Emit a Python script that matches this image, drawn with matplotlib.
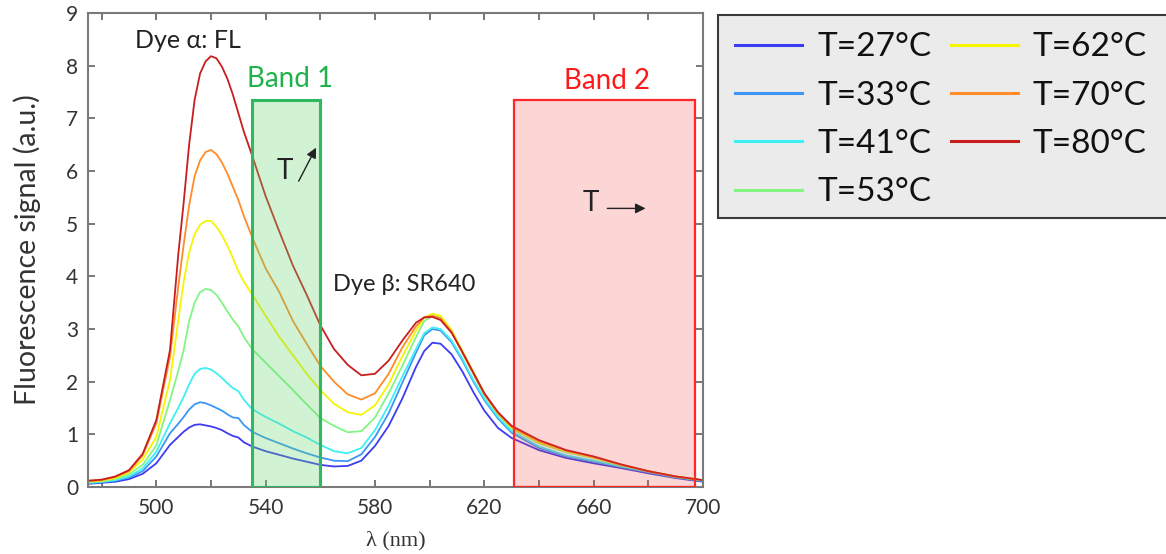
import matplotlib
matplotlib.use("Agg")
import matplotlib.pyplot as plt
from matplotlib.patches import Rectangle
from matplotlib.ticker import MultipleLocator

plt.rcParams['font.family'] = ['Lato', 'DejaVu Sans']

# wavelength grid (nm)
wl = [475, 480, 485, 490, 495, 500, 505, 508, 510, 512, 514, 516, 518, 520, 522, 524, 526, 528, 530,
      532, 535, 540, 545, 550, 555, 560, 565, 570, 575, 580, 585, 590, 595, 598,
      601, 604, 608, 612, 616, 620, 625, 630, 640, 650, 660, 670, 680, 690, 700]

# fluorescence spectra (a.u.)
s27 = [0.06, 0.08, 0.10, 0.15, 0.25, 0.45, 0.80, 0.95, 1.05, 1.13, 1.18, 1.19, 1.17, 1.15, 1.12, 1.08, 1.02, 0.97, 0.94,
       0.85, 0.77, 0.68, 0.61, 0.54, 0.48, 0.42, 0.39, 0.40, 0.50, 0.78, 1.16, 1.68, 2.28, 2.58,
       2.74, 2.72, 2.52, 2.19, 1.80, 1.45, 1.12, 0.93, 0.70, 0.55, 0.45, 0.36, 0.26, 0.17, 0.10]
s33 = [0.07, 0.09, 0.12, 0.18, 0.30, 0.58, 1.02, 1.20, 1.33, 1.47, 1.57, 1.61, 1.59, 1.55, 1.50, 1.45, 1.38, 1.32, 1.31,
       1.18, 1.05, 0.93, 0.83, 0.73, 0.64, 0.56, 0.50, 0.49, 0.62, 0.95, 1.40, 1.98, 2.55, 2.88,
       3.00, 2.97, 2.75, 2.40, 2.00, 1.65, 1.30, 1.03, 0.74, 0.58, 0.48, 0.38, 0.28, 0.18, 0.11]
s41 = [0.08, 0.10, 0.13, 0.20, 0.35, 0.67, 1.21, 1.50, 1.71, 1.95, 2.15, 2.24, 2.26, 2.23, 2.16, 2.07, 1.97, 1.88, 1.82,
       1.66, 1.48, 1.33, 1.20, 1.06, 0.94, 0.80, 0.68, 0.64, 0.74, 1.08, 1.55, 2.10, 2.62, 2.92,
       3.03, 3.00, 2.78, 2.43, 2.03, 1.68, 1.33, 1.06, 0.77, 0.60, 0.50, 0.39, 0.29, 0.19, 0.12]
s53 = [0.09, 0.11, 0.15, 0.24, 0.42, 0.79, 1.65, 2.20, 2.60, 3.15, 3.50, 3.70, 3.76, 3.74, 3.65, 3.50, 3.33, 3.18, 3.05,
       2.85, 2.62, 2.36, 2.10, 1.84, 1.57, 1.31, 1.16, 1.04, 1.06, 1.32, 1.78, 2.30, 2.85, 3.15,
       3.25, 3.22, 2.95, 2.55, 2.15, 1.75, 1.38, 1.11, 0.83, 0.66, 0.55, 0.41, 0.30, 0.20, 0.13]
s62 = [0.10, 0.12, 0.17, 0.28, 0.52, 0.95, 2.03, 3.15, 3.90, 4.45, 4.80, 4.98, 5.05, 5.05, 4.94, 4.78, 4.58, 4.35, 4.10,
       3.90, 3.66, 3.25, 2.85, 2.50, 2.15, 1.84, 1.58, 1.42, 1.37, 1.55, 1.95, 2.48, 2.97, 3.22,
       3.29, 3.25, 2.98, 2.58, 2.18, 1.78, 1.40, 1.13, 0.85, 0.68, 0.56, 0.42, 0.30, 0.20, 0.13]
s70 = [0.11, 0.13, 0.19, 0.30, 0.60, 1.21, 2.47, 3.80, 4.60, 5.35, 5.90, 6.20, 6.36, 6.40, 6.32, 6.16, 5.95, 5.70, 5.45,
       5.15, 4.75, 4.15, 3.70, 3.15, 2.72, 2.30, 2.00, 1.76, 1.66, 1.78, 2.15, 2.65, 3.05, 3.22,
       3.25, 3.20, 2.95, 2.55, 2.15, 1.76, 1.40, 1.14, 0.87, 0.69, 0.57, 0.42, 0.30, 0.20, 0.13]
s80 = [0.12, 0.14, 0.20, 0.32, 0.63, 1.27, 2.60, 4.40, 5.40, 6.50, 7.35, 7.85, 8.08, 8.18, 8.14, 7.98, 7.75, 7.45, 7.10,
       6.75, 6.30, 5.52, 4.85, 4.20, 3.65, 3.07, 2.62, 2.32, 2.12, 2.15, 2.40, 2.78, 3.12, 3.22,
       3.23, 3.17, 2.93, 2.56, 2.17, 1.78, 1.42, 1.16, 0.89, 0.70, 0.58, 0.43, 0.30, 0.20, 0.13]

series = [s27, s33, s41, s53, s62, s70, s80]
labels = ['T=27°C', 'T=33°C', 'T=41°C', 'T=53°C', 'T=62°C', 'T=70°C', 'T=80°C']
colors = ['#3c3cf0', '#3c96f5', '#3cf0f5', '#82f582', '#f5f500', '#ff8c28', '#c81e1e']

band1 = (535, 560)
band2 = (631, 697)
band_top = 7.34

fig = plt.figure(figsize=(11.66, 5.54), dpi=100)
ax = fig.add_axes([88 / 1166, 1 - 487 / 554, (703 - 88) / 1166, (487 - 13) / 554])

for s, lab, c in zip(series, labels, colors):
    ax.plot(wl, s, color=c, lw=1.3, label=lab)

# spectral bands
ax.add_patch(Rectangle((band1[0], 0), band1[1] - band1[0], band_top,
                       facecolor=(0.41, 0.83, 0.44, 0.3), edgecolor='#2eb860', lw=2.2, zorder=3))
ax.add_patch(Rectangle((band2[0], 0), band2[1] - band2[0], band_top,
                       facecolor=(0.95, 0.25, 0.25, 0.22), edgecolor='#ff2828', lw=1.6, zorder=3))

ax.text(549, 7.74, 'Band 1', color='#1fb24a', fontsize=20, ha='center', va='center')
ax.text(665, 7.71, 'Band 2', color='#ff1a1a', fontsize=20, ha='center', va='center')
ax.text(511.5, 8.48, 'Dye α: FL', color='#222222', fontsize=18, ha='center', va='center')
ax.text(590.7, 3.85, 'Dye β: SR640', color='#222222', fontsize=17, ha='center', va='center')

ax.text(546.9, 6.0, 'T', fontsize=20, ha='center', va='center', color='#222222', zorder=5)
ax.annotate('', xy=(558.9, 6.49), xytext=(551.6, 5.76),
            arrowprops=dict(arrowstyle='-|>', color='#222222', lw=1.0, mutation_scale=15), zorder=5)
ax.text(659, 5.4, 'T', fontsize=20, ha='center', va='center', color='#222222', zorder=5)
ax.annotate('', xy=(680, 5.29), xytext=(664, 5.29),
            arrowprops=dict(arrowstyle='-|>', color='#222222', lw=1.0, mutation_scale=15), zorder=5)

ax.set_xlim(475, 700)
ax.set_ylim(0, 9)
ax.set_xticks([500, 540, 580, 620, 660, 700])
ax.xaxis.set_minor_locator(MultipleLocator(20))
ax.yaxis.set_major_locator(MultipleLocator(1))
ax.tick_params(which='both', direction='in', top=True, right=True, length=5,
               width=1.2, color='#606060', labelsize=15, labelcolor='#333333')
ax.tick_params(axis='x', pad=8)
ax.tick_params(axis='y', pad=7)
for sp in ax.spines.values():
    sp.set_color('#7a7a7a')
    sp.set_linewidth(1.5)

ax.set_ylabel('Fluorescence signal (a.u.)', fontsize=20.5, color='#333333', labelpad=18)
ax.set_xlabel('λ (nm)', fontsize=16, family=['Liberation Serif', 'DejaVu Serif'],
              color='#333333', labelpad=9)

# legend box drawn in figure coordinates
fig.patches.append(Rectangle((718 / 1166, 1 - 218 / 554), 0.5, (218 - 15) / 554,
                             transform=fig.transFigure, facecolor='#ebebeb',
                             edgecolor='#3a3a3a', lw=1.5, zorder=0))
leg = fig.legend(loc='upper left', bbox_to_anchor=(722 / 1166, 1 - 19 / 554), ncol=2,
                 frameon=False, fontsize=24, handlelength=2.0, handletextpad=0.45,
                 columnspacing=0.6, labelspacing=0.55, borderaxespad=0)
for line in leg.get_lines():
    line.set_linewidth(2.2)
for t in leg.get_texts():
    t.set_color('#111111')

fig.savefig('out.png', dpi=100)
